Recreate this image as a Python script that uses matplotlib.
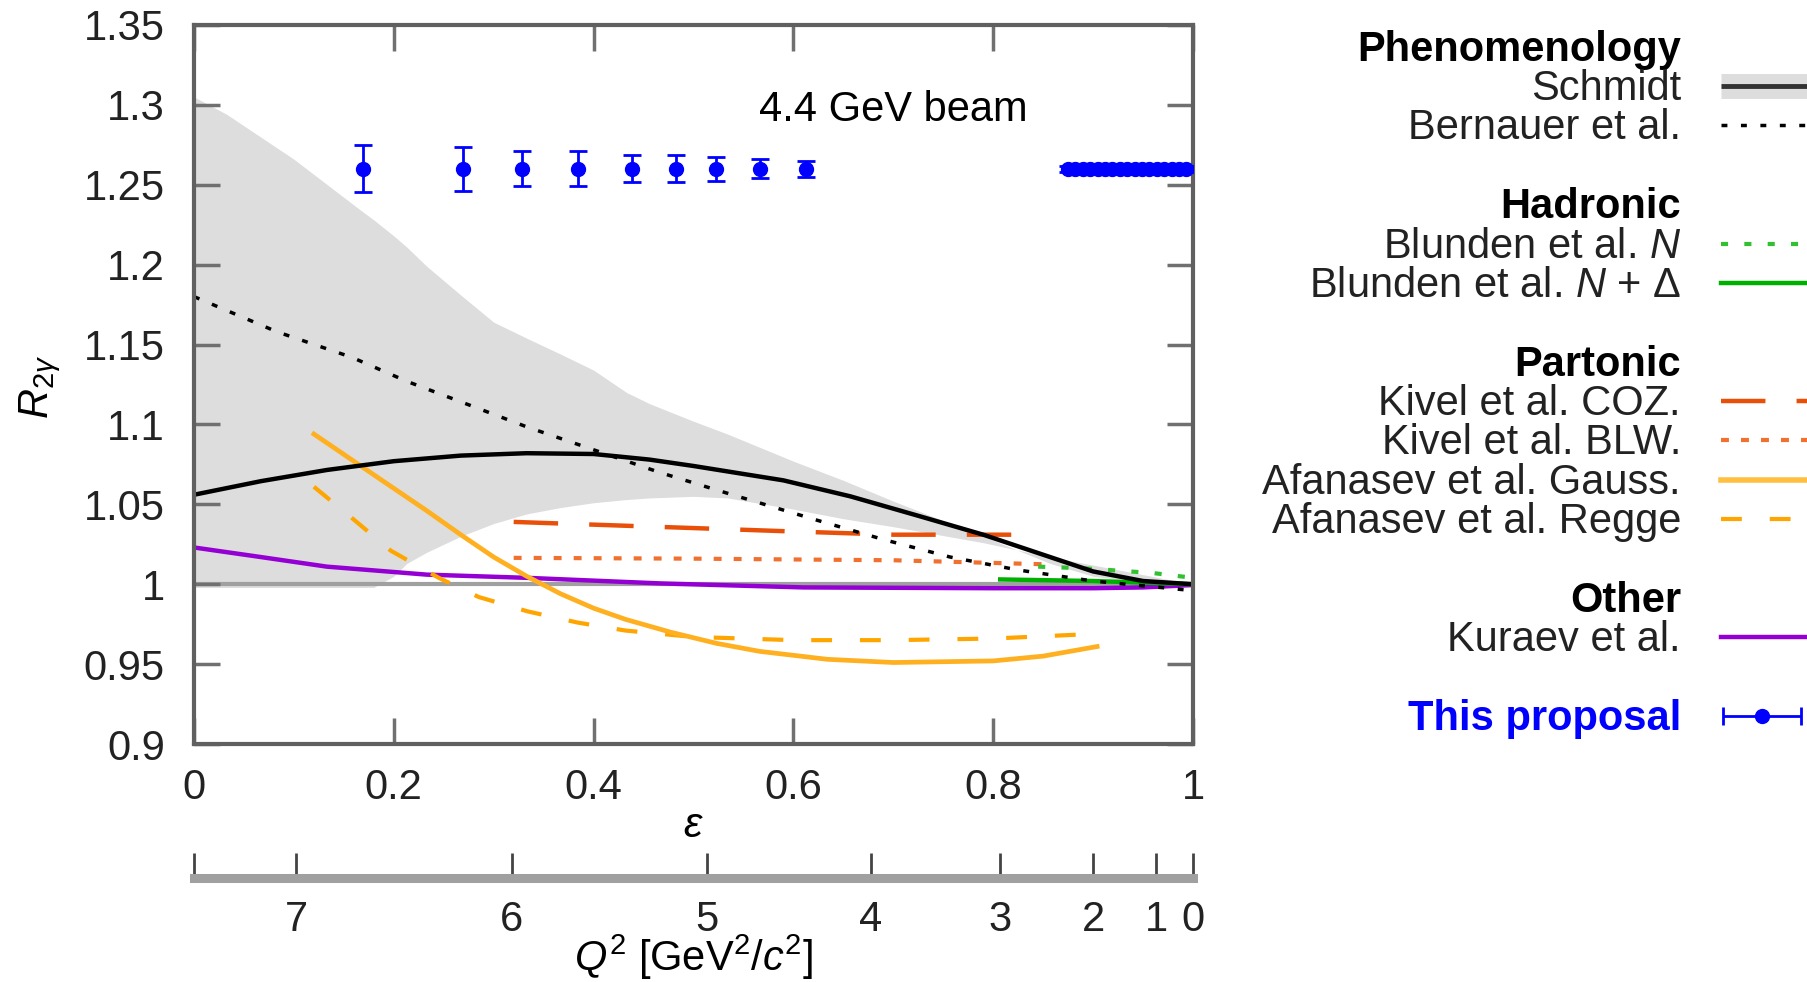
import numpy as np
import matplotlib
matplotlib.use('Agg')
import matplotlib.pyplot as plt

plt.rcParams['font.family'] = ['Liberation Sans', 'DejaVu Sans']
plt.rcParams['mathtext.fontset'] = 'custom'
plt.rcParams['mathtext.rm'] = 'Liberation Sans'
plt.rcParams['mathtext.it'] = 'Liberation Sans:italic'
plt.rcParams['mathtext.bf'] = 'Liberation Sans:bold'
plt.rcParams['mathtext.fallback'] = 'stixsans'
FS = 30

# Schmidt uncertainty band
band_eps = [0, 0.033, 0.1, 0.167, 0.18, 0.2, 0.213, 0.233, 0.267, 0.3, 0.333, 0.367, 0.4,
            0.433, 0.456, 0.5, 0.534, 0.6, 0.65, 0.7, 0.79, 0.857, 0.9, 0.95, 1.0]
band_hi = [1.305, 1.294, 1.266, 1.234, 1.228, 1.218, 1.211, 1.199, 1.181, 1.164, 1.154, 1.144, 1.134,
           1.12, 1.113, 1.102, 1.094, 1.077, 1.065, 1.052, 1.030, 1.013, 1.005, 1.001, 1.0]
band_lo = [0.998, 0.998, 0.998, 0.998, 0.998, 1.005, 1.013, 1.020, 1.030, 1.038, 1.044, 1.048, 1.051,
           1.053, 1.054, 1.055, 1.054, 1.047, 1.041, 1.036, 1.026, 1.017, 1.012, 1.006, 1.0]

schmidt_eps = [0, 0.067, 0.133, 0.2, 0.267, 0.333, 0.4, 0.456, 0.5, 0.59, 0.657, 0.724, 0.79, 0.857, 0.9, 0.95, 1.0]
schmidt_r = [1.056, 1.0645, 1.0715, 1.077, 1.0805, 1.082, 1.0815, 1.078, 1.074, 1.065, 1.055, 1.043,
             1.031, 1.017, 1.008, 1.002, 1.0]

bernauer_eps = [0, 0.083, 0.158, 0.213, 0.272, 0.333, 0.41, 0.466, 0.523, 0.624, 0.69, 0.757, 0.824, 0.9, 1.0]
bernauer_r = [1.18, 1.158, 1.142, 1.127, 1.113, 1.0985, 1.082, 1.070, 1.059, 1.040, 1.028, 1.017, 1.009, 1.002, 0.996]

blunden_n_eps = [0.845, 0.89, 0.96, 1.0]
blunden_n_r = [1.011, 1.010, 1.007, 1.004]
blunden_nd_eps = [0.807, 0.9, 1.0]
blunden_nd_r = [1.003, 1.002, 1.0]

kivel_coz_eps = [0.32, 0.46, 0.6, 0.7, 0.847]
kivel_coz_r = [1.039, 1.036, 1.033, 1.031, 1.031]
kivel_blw_eps = [0.32, 0.5, 0.7, 0.85]
kivel_blw_r = [1.0165, 1.016, 1.015, 1.0125]

gauss_eps = [0.12, 0.167, 0.2, 0.233, 0.267, 0.3, 0.333, 0.367, 0.4, 0.432, 0.477, 0.523,
             0.566, 0.634, 0.7, 0.8, 0.85, 0.904]
gauss_r = [1.094, 1.074, 1.060, 1.046, 1.031, 1.017, 1.005, 0.994, 0.985, 0.978, 0.970, 0.963,
           0.958, 0.953, 0.951, 0.952, 0.955, 0.961]
regge_eps = [0.12, 0.157, 0.197, 0.245, 0.285, 0.334, 0.384, 0.432, 0.5, 0.6, 0.7, 0.8, 0.904]
regge_r = [1.061, 1.042, 1.021, 1.004, 0.992, 0.983, 0.976, 0.971, 0.967, 0.965, 0.965, 0.966, 0.969]

kuraev_eps = [0, 0.067, 0.133, 0.233, 0.333, 0.467, 0.61, 0.8, 0.9, 0.95, 1.0]
kuraev_r = [1.023, 1.017, 1.011, 1.006, 1.004, 1.0005, 0.998, 0.9975, 0.9975, 0.998, 0.9995]

# this proposal
prop_eps = [0.169, 0.269, 0.328, 0.384, 0.438, 0.482, 0.523, 0.567, 0.613,
            0.875, 0.882, 0.890, 0.897, 0.905, 0.912, 0.919, 0.927, 0.934,
            0.942, 0.949, 0.956, 0.964, 0.971, 0.979, 0.986, 0.993]
prop_r = [1.26] * len(prop_eps)
prop_err = [0.0147, 0.0139, 0.011, 0.011, 0.0085, 0.0085, 0.0075, 0.006, 0.005,
            0.002, 0.002, 0.002, 0.002, 0.002, 0.002, 0.002, 0.002, 0.002,
            0.002, 0.002, 0.002, 0.002, 0.002, 0.002, 0.002, 0.002]

xticks = [0, 0.2, 0.4, 0.6, 0.8, 1.0]
xtick_labels = ['0', '0.2', '0.4', '0.6', '0.8', '1']
yticks = [0.9, 0.95, 1.0, 1.05, 1.1, 1.15, 1.2, 1.25, 1.3, 1.35]
ytick_labels = ['0.9', '0.95', '1', '1.05', '1.1', '1.15', '1.2', '1.25', '1.3', '1.35']
q2_ticks = [7, 6, 5, 4, 3, 2, 1, 0]

E_beam = 4.4
M_p = 0.938


def eps_of_q2(q2):
    tau = q2 / (4 * M_p**2)
    e_prime = E_beam - q2 / (2 * M_p)
    s2 = q2 / (4 * E_beam * e_prime)
    t2 = s2 / (1 - s2)
    return 1 / (1 + 2 * (1 + tau) * t2)


W, H = 1808, 982
fig = plt.figure(figsize=(W / 100, H / 100), dpi=100)
ax = fig.add_axes([194 / W, 1 - 744 / H, 999 / W, 719 / H])

ax.fill_between(band_eps, band_lo, band_hi, color='#dddddd', lw=0, zorder=1)
ax.axhline(1.0, color='#a0a0a0', lw=3, zorder=1.5)

ax.plot(kuraev_eps, kuraev_r, color='#9400d3', lw=3.2, zorder=2)
ax.plot(kivel_blw_eps, kivel_blw_r, color='#f07030', lw=3, dashes=(1.9, 2.9), zorder=2)
ax.plot(kivel_coz_eps, kivel_coz_r, color='#e8500a', lw=3.2, dashes=(10, 7), zorder=2)
ax.plot(regge_eps, regge_r, color='#ffa500', lw=3, dashes=(5, 6.7), zorder=2)
ax.plot(gauss_eps, gauss_r, color='#ffb020', lw=3.4, zorder=2)
ax.plot(blunden_nd_eps, blunden_nd_r, color='#00b000', lw=3.2, zorder=2.1)
ax.plot(blunden_n_eps, blunden_n_r, color='#30c030', lw=3, dashes=(1.7, 3.9), zorder=2.1)
ax.plot(bernauer_eps, bernauer_r, color='black', lw=2.5, dashes=(1.7, 3.9), zorder=2.2)
ax.plot(schmidt_eps, schmidt_r, color='black', lw=3.2, zorder=2.3)

ax.errorbar(prop_eps, prop_r, yerr=prop_err, fmt='o', color='#0000ff', ms=10,
            elinewidth=2, capsize=6.5, capthick=2, zorder=3)

ax.text(0.70, 0.882, '4.4 GeV beam', transform=ax.transAxes, ha='center', va='center', fontsize=FS)

ax.set_xlim(0, 1)
ax.set_ylim(0.9, 1.35)
ax.set_xticks(xticks)
ax.set_xticklabels(xtick_labels)
ax.set_yticks(yticks)
ax.set_yticklabels(ytick_labels)
ax.tick_params(which='both', direction='in', top=True, right=True, length=18.5, width=2.5,
               color='#707070', labelsize=FS, labelcolor='#222222')
ax.tick_params(axis='x', pad=17)
ax.tick_params(axis='y', pad=21)
for sp in ax.spines.values():
    sp.set_color('#606060')
    sp.set_linewidth(3)

ax.set_xlabel(r'$\epsilon$', fontsize=FS)
ax.xaxis.set_label_coords(0.5, -(826 - 744) / 719)
ax.xaxis.label.set_va('center')
ax.set_ylabel(r'$R_{2\gamma}$', fontsize=FS)
ax.yaxis.set_label_coords((40 - 194) / 999, (744 - 387) / 719)
ax.yaxis.label.set_va('center')

# Q^2 scale below
ax2 = fig.add_axes([194 / W, 1 - 878 / H, 999 / W, 0.001])
ax2.set_xlim(0, 1)
ax2.set_xticks([0.0] + [eps_of_q2(q) for q in q2_ticks])
ax2.set_xticklabels([''] + [str(q) for q in q2_ticks])
ax2.set_yticks([])
for k in ['left', 'right', 'top']:
    ax2.spines[k].set_visible(False)
ax2.spines['bottom'].set_color('#a0a0a0')
ax2.spines['bottom'].set_linewidth(6.5)
ax2.tick_params(axis='x', direction='in', length=18, width=2, color='#444444',
                labelsize=FS, pad=16, labelcolor='#222222')
ax2.patch.set_visible(False)
fig.text(693 / W, 1 - 971 / H, r'$Q^2$ [GeV$^2$/$c^2$]', ha='center', va='baseline', fontsize=FS)

# legend drawn in pixel coordinates
lax = fig.add_axes([0, 0, 1, 1])
lax.set_xlim(0, W)
lax.set_ylim(H, 0)
lax.axis('off')
lax.patch.set_visible(False)

entries = [
    (0, 'Phenomenology', 'head', None),
    (1, 'Schmidt', 'schmidt', None),
    (2, 'Bernauer et al.', 'line', dict(color='black', lw=2.5, dashes=(1.7, 3.9))),
    (4, 'Hadronic', 'head', None),
    (5, r'Blunden et al. $N$', 'line', dict(color='#30c030', lw=3, dashes=(1.7, 3.9))),
    (6, r'Blunden et al. $N$ + Δ', 'line', dict(color='#00b000', lw=3.2)),
    (8, 'Partonic', 'head', None),
    (9, 'Kivel et al. COZ.', 'line', dict(color='#e8500a', lw=3.2, dashes=(10, 7))),
    (10, 'Kivel et al. BLW.', 'line', dict(color='#f07030', lw=3, dashes=(1.9, 2.9))),
    (11, 'Afanasev et al. Gauss.', 'line', dict(color='#ffc040', lw=4)),
    (12, 'Afanasev et al. Regge', 'line', dict(color='#ffa500', lw=3, dashes=(5, 6.7))),
    (14, 'Other', 'head', None),
    (15, 'Kuraev et al.', 'line', dict(color='#9400d3', lw=3.2)),
    (17, 'This proposal', 'prop', None),
]
x_text = 1681
x0, x1 = 1721, 1812
for row, label, kind, style in entries:
    yb = 100 + 39.375 * (row - 1)
    ym = yb - 14
    if kind == 'head':
        lax.text(x_text, yb, label, ha='right', va='baseline', fontsize=FS, fontweight='bold')
        continue
    if kind == 'prop':
        lax.text(x_text, yb, label, ha='right', va='baseline', fontsize=FS, fontweight='bold',
                 color='#0000ff')
        lax.errorbar([1762], [ym], xerr=[39], fmt='o', color='#0000ff', ms=10,
                     elinewidth=2, capsize=6.5, capthick=2, clip_on=False)
        continue
    lax.text(x_text, yb, label, ha='right', va='baseline', fontsize=FS, color='#222222')
    if kind == 'schmidt':
        lax.plot([x0, x1], [ym, ym], color='#dddddd', lw=18, solid_capstyle='butt', clip_on=False)
        lax.plot([x0, x1], [ym, ym], color='#333333', lw=3.5, solid_capstyle='butt', clip_on=False)
    else:
        lax.plot([x0, x1], [ym, ym], clip_on=False, **style)

fig.savefig('out.png', dpi=100)
